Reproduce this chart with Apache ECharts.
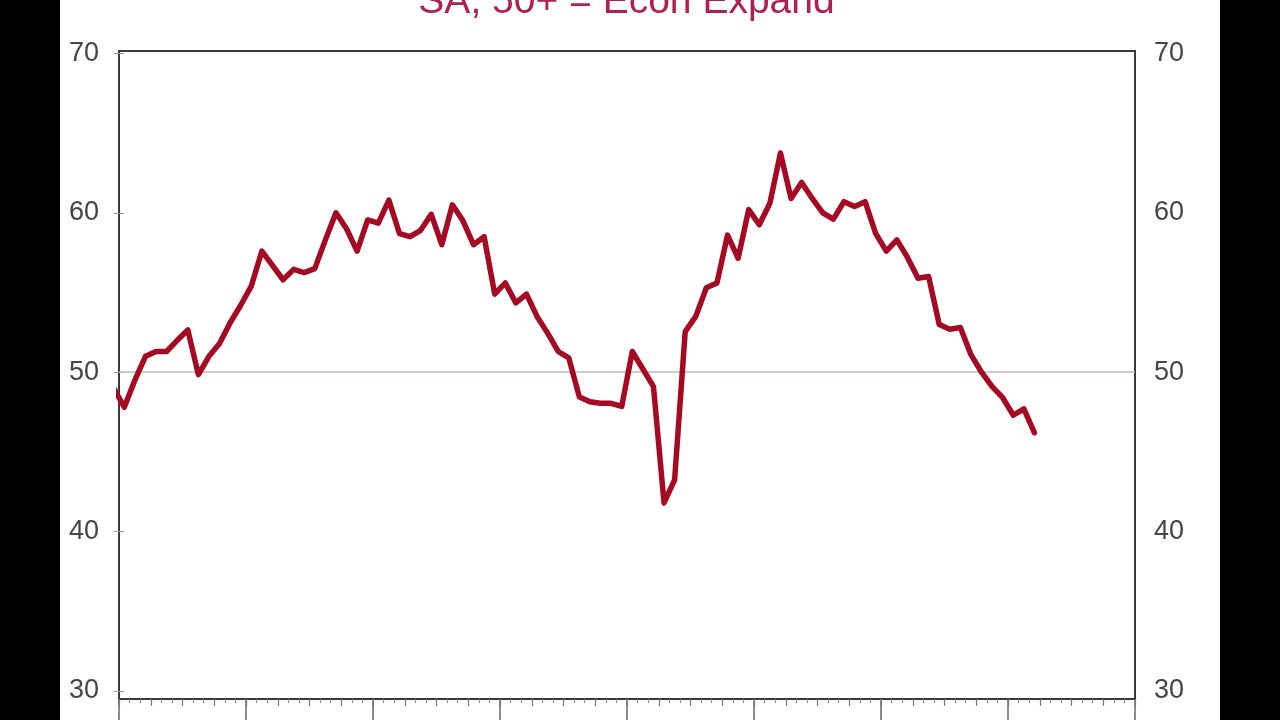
<!DOCTYPE html>
<html>
<head>
<meta charset="utf-8">
<script src="https://cdn.jsdelivr.net/npm/echarts@6/dist/echarts.min.js"></script>
<style>
  html, body { margin: 0; padding: 0; background: #000; width: 1280px; height: 720px; overflow: hidden; }
  #chart { position: absolute; left: 60px; top: 0; width: 1160px; height: 720px; background: #fff; }
</style>
</head>
<body>
<div id="chart"></div>
<script>
// ---- data (monthly, first value is Dec 2015, clipped at the left edge) ----
const titleText = 'SA, 50+ = Econ Expand';
const firstMonth = '2015-12';
const pmi = [
  49.0,
  // 2016
  47.8, 49.5, 51.0, 51.3, 51.3, 52.0, 52.65, 49.85, 51.0, 51.8, 53.1, 54.2,
  // 2017
  55.4, 57.6, 56.7, 55.8, 56.45, 56.25, 56.5, 58.3, 60.0, 59.0, 57.6, 59.55,
  // 2018
  59.35, 60.8, 58.7, 58.5, 58.9, 59.9, 58.0, 60.5, 59.5, 58.0, 58.5, 54.9,
  // 2019
  55.6, 54.35, 54.9, 53.5, 52.45, 51.3, 50.9, 48.45, 48.15, 48.05, 48.05, 47.85,
  // 2020
  51.3, 50.2, 49.1, 41.8, 43.25, 52.55, 53.5, 55.3, 55.6, 58.6, 57.15, 60.2,
  // 2021
  59.25, 60.6, 63.75, 60.9, 61.9, 60.9, 60.0, 59.6, 60.7, 60.4, 60.7, 58.7,
  // 2022
  57.6, 58.3, 57.2, 55.9, 56.0, 53.0, 52.7, 52.8, 51.1, 50.0, 49.1, 48.4,
  // 2023
  47.3, 47.7, 46.2
];
const yTicks = [30, 40, 50, 60, 70];
const threshold = 50;
const axisStartYear = 2016;
const axisEndYear = 2024;

// month index relative to Jan of axisStartYear, plotted at mid-month
const [fy, fm] = firstMonth.split('-').map(Number);
const baseIdx = (fy - axisStartYear) * 12 + (fm - 1);
const seriesData = pmi.map((v, i) => [baseIdx + i + 0.5, v]);
const xMax = (axisEndYear - axisStartYear) * 12;

const chart = echarts.init(document.getElementById('chart'), null, { renderer: 'canvas' });

const labelStyle = { color: '#454545', fontSize: 27, fontFamily: 'Liberation Sans, Arial, sans-serif' };

function yAxisDef(pos, margin) {
  return {
    type: 'value',
    position: pos,
    min: 29.5,
    max: 70.15,
    splitLine: { show: false },
    axisLine: { show: true, lineStyle: { color: '#3a3a3a', width: 2 } },
    axisTick: { show: true, length: 5, customValues: yTicks, lineStyle: { color: '#999', width: 1 } },
    axisLabel: Object.assign({ customValues: yTicks, margin: margin }, labelStyle)
  };
}

const option = {
  animation: false,
  backgroundColor: '#fff',
  grid: {
    left: 59, right: 85, top: 51, bottom: 21,
    show: true, borderColor: '#3a3a3a', borderWidth: 2, backgroundColor: '#fff'
  },
  graphic: [{
    type: 'text',
    x: 566.5,
    y: 2,
    style: {
      text: titleText,
      fill: '#b0204e',
      font: '39px "Liberation Sans", Arial, sans-serif',
      textAlign: 'center',
      textVerticalAlign: 'middle',
      verticalAlign: 'middle'
    }
  }],
  xAxis: [{
    type: 'value',
    min: 0,
    max: xMax,
    interval: 12,
    position: 'bottom',
    splitLine: { show: false },
    axisLine: { show: true, lineStyle: { color: '#3a3a3a', width: 2 } },
    axisTick: { show: true, length: 24, lineStyle: { color: '#666', width: 1.5 } },
    minorTick: { show: true, splitNumber: 12, length: 4, lineStyle: { color: '#888', width: 1 } },
    minorSplitLine: { show: false },
    axisLabel: { show: false }
  }, {
    type: 'value',
    min: 0,
    max: xMax,
    interval: 3,
    position: 'bottom',
    splitLine: { show: false },
    axisLine: { show: false },
    axisTick: { show: true, length: 7, lineStyle: { color: '#777', width: 1.2 } },
    axisLabel: { show: false }
  }],
  yAxis: [yAxisDef('left', 20), yAxisDef('right', 19)],
  series: [{
    type: 'line',
    data: seriesData,
    xAxisIndex: 0,
    yAxisIndex: 0,
    clip: true,
    showSymbol: false,
    symbol: 'none',
    lineStyle: { color: '#a50a22', width: 5.5, join: 'round', cap: 'round' },
    z: 3,
    markLine: {
      silent: true,
      symbol: 'none',
      label: { show: false },
      lineStyle: { color: '#c7b5b9', width: 1.5, type: 'solid' },
      data: [{ yAxis: threshold }],
      z: 1
    }
  }]
};

chart.setOption(option);
</script>
</body>
</html>
